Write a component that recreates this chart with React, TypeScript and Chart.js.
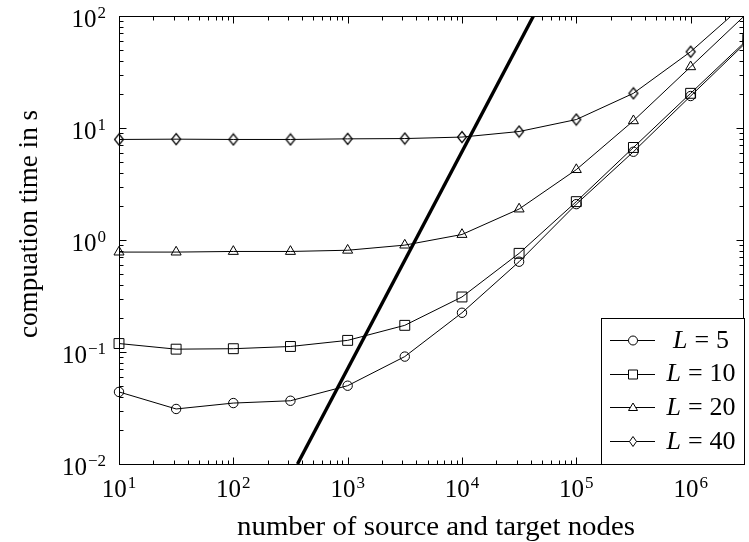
import React, { useEffect, useRef } from 'react';
import { Chart, registerables } from 'chart.js';

Chart.register(...registerables);

// ---- data ----
const xValues = [10, 31.6, 100, 316, 1000, 3160, 10000, 31600, 100000, 316000, 1000000, 3160000];
const lValues = [5, 10, 20, 40];
const timesL5 = [0.044, 0.031, 0.035, 0.0367, 0.05, 0.091, 0.224, 0.64, 2.09, 6.14, 19.3, 60];
const timesL10 = [0.119, 0.106, 0.107, 0.112, 0.127, 0.173, 0.31, 0.76, 2.2, 6.7, 20.4, 62];
const timesL20 = [0.78, 0.78, 0.79, 0.79, 0.81, 0.9, 1.12, 1.89, 4.25, 11.6, 35.2, 107];
const timesL40 = [7.9, 7.95, 7.9, 7.9, 8.0, 8.05, 8.3, 9.3, 11.9, 20.4, 48, 135];
const refLineX = [364, 42200];
const refLineY = [0.01, 100];
const xTickExponents = [1, 2, 3, 4, 5, 6];
const yTickExponents = [-2, -1, 0, 1, 2];
const xTitle = 'number of source and target nodes';
const yTitle = 'compuation time in s';
const X_MIN = 10;
const X_MAX = 2.93e6;
const Y_MIN = 0.01;
const Y_MAX = 100;

const series = [timesL5, timesL10, timesL20, timesL40];
const FONT = '"Liberation Serif", "Times New Roman", serif';

function makeDiamond(w: number, h: number): HTMLCanvasElement {
  const c = document.createElement('canvas');
  c.width = 12;
  c.height = 14;
  const g = c.getContext('2d')!;
  const cx = c.width / 2, cy = c.height / 2;
  g.strokeStyle = '#000';
  g.lineWidth = 1.2;
  g.beginPath();
  g.moveTo(cx, cy - h / 2);
  g.lineTo(cx + w / 2, cy);
  g.lineTo(cx, cy + h / 2);
  g.lineTo(cx - w / 2, cy);
  g.closePath();
  g.stroke();
  return c;
}

function drawPow(ctx: CanvasRenderingContext2D, exp: number, x: number, y: number, align: 'center' | 'right') {
  const base = '10';
  const e = exp < 0 ? '\u2212' + Math.abs(exp) : String(exp);
  ctx.font = `25px ${FONT}`;
  const w1 = ctx.measureText(base).width;
  ctx.font = `17px ${FONT}`;
  const w2 = ctx.measureText(e).width;
  const w = w1 + w2 + 1;
  const start = align === 'center' ? x - w / 2 : x - w;
  ctx.textAlign = 'left';
  ctx.textBaseline = 'alphabetic';
  ctx.font = `25px ${FONT}`;
  ctx.fillText(base, start, y);
  ctx.font = `17px ${FONT}`;
  ctx.fillText(e, start + w1 + 1, y - 9);
}

function legendMarker(ctx: CanvasRenderingContext2D, i: number, x: number, y: number) {
  ctx.beginPath();
  if (i === 0) {
    ctx.arc(x, y, 4.5, 0, Math.PI * 2);
  } else if (i === 1) {
    ctx.rect(x - 4.5, y - 4.5, 9, 9);
  } else if (i === 2) {
    ctx.moveTo(x, y - 4.5);
    ctx.lineTo(x + 4.5, y + 3);
    ctx.lineTo(x - 4.5, y + 3);
    ctx.closePath();
  } else {
    ctx.moveTo(x, y - 5);
    ctx.lineTo(x + 3.5, y);
    ctx.lineTo(x, y + 5);
    ctx.lineTo(x - 3.5, y);
    ctx.closePath();
  }
  ctx.fillStyle = '#fff';
  ctx.fill();
  ctx.stroke();
}

const decor = {
  id: 'decor',
  afterDatasetsDraw(chart: any) {
    const { ctx, chartArea: a, scales } = chart;
    const xs = scales.x, ys = scales.y;
    ctx.save();
    ctx.strokeStyle = '#000';
    ctx.lineWidth = 1;
    const L = Math.round(a.left) + 0.5;
    const R = Math.round(a.right) - 0.5;
    const T = Math.round(a.top) + 0.5;
    const B = Math.round(a.bottom) + 0.5;
    ctx.strokeRect(L, T, R - L, B - T);
    ctx.beginPath();
    for (let e = xTickExponents[0]; e <= xTickExponents[xTickExponents.length - 1]; e++) {
      for (let m = 1; m <= 9; m++) {
        const v = m * Math.pow(10, e);
        if (v < X_MIN || v > X_MAX) continue;
        const px = Math.round(xs.getPixelForValue(v)) + 0.5;
        const len = m === 1 ? 7 : 4;
        ctx.moveTo(px, B);
        ctx.lineTo(px, B - len);
        ctx.moveTo(px, T);
        ctx.lineTo(px, T + len);
      }
    }
    for (let e = yTickExponents[0]; e <= yTickExponents[yTickExponents.length - 1]; e++) {
      for (let m = 1; m <= 9; m++) {
        const v = m * Math.pow(10, e);
        if (v < Y_MIN || v > Y_MAX) continue;
        const py = Math.round(ys.getPixelForValue(v)) + 0.5;
        const len = m === 1 ? 7 : 4;
        ctx.moveTo(L, py);
        ctx.lineTo(L + len, py);
        ctx.moveTo(R, py);
        ctx.lineTo(R - len, py);
      }
    }
    ctx.stroke();
    ctx.restore();
  },
  afterDraw(chart: any) {
    const { ctx, chartArea: a, scales } = chart;
    const xs = scales.x, ys = scales.y;
    ctx.save();
    ctx.fillStyle = '#000';
    xTickExponents.forEach((e) => {
      const px = xs.getPixelForValue(Math.pow(10, e));
      drawPow(ctx, e, px, a.bottom + 33, 'center');
    });
    yTickExponents.forEach((e) => {
      const py = ys.getPixelForValue(Math.pow(10, e));
      drawPow(ctx, e, a.left - 13, py + 10.5, 'right');
    });
    ctx.font = `27px ${FONT}`;
    ctx.textAlign = 'center';
    ctx.textBaseline = 'alphabetic';
    {
      const w = ctx.measureText(xTitle).width;
      ctx.save();
      ctx.translate(436, a.bottom + 71);
      ctx.scale(398 / w, 1);
      ctx.fillText(xTitle, 0, 0);
      ctx.restore();
    }
    {
      ctx.font = `28px ${FONT}`;
      const w = ctx.measureText(yTitle).width;
      ctx.save();
      ctx.translate(37, 224);
      ctx.rotate(-Math.PI / 2);
      ctx.scale(228 / w, 1);
      ctx.fillText(yTitle, 0, 0);
      ctx.restore();
    }
    const lgLeft = 601, lgTop = 318;
    ctx.fillStyle = '#fff';
    ctx.fillRect(lgLeft, lgTop, a.right - lgLeft, a.bottom - lgTop);
    ctx.strokeStyle = '#000';
    ctx.lineWidth = 1;
    ctx.strokeRect(lgLeft + 0.5, lgTop + 0.5, a.right - lgLeft, a.bottom - lgTop);
    lValues.forEach((lv, i) => {
      const cy = 340 + i * 33.7;
      ctx.beginPath();
      ctx.moveTo(610, Math.round(cy) + 0.5);
      ctx.lineTo(655, Math.round(cy) + 0.5);
      ctx.stroke();
      legendMarker(ctx, i, 633, Math.round(cy) + 0.5);
      ctx.fillStyle = '#000';
      ctx.textAlign = 'left';
      ctx.textBaseline = 'alphabetic';
      ctx.font = `italic 26px ${FONT}`;
      const wL = ctx.measureText('L').width;
      ctx.font = `26px ${FONT}`;
      const wEq = ctx.measureText('=').width;
      const val = String(lv);
      const wV = ctx.measureText(val).width;
      const gap = 7;
      const total = wL + gap + wEq + gap + wV;
      let x = 701 - total / 2;
      const by = cy + 7.5;
      ctx.font = `italic 26px ${FONT}`;
      ctx.fillText('L', x, by);
      x += wL + gap;
      ctx.font = `26px ${FONT}`;
      ctx.fillText('=', x, by);
      x += wEq + gap;
      ctx.fillText(val, x, by);
    });
    ctx.restore();
  },
};

export default function App() {
  const ref = useRef<HTMLCanvasElement>(null);
  useEffect(() => {
    const canvas = ref.current!;
    const diamond = makeDiamond(9, 11);
    const styles: any[] = ['circle', 'rect', 'triangle', diamond];
    const radii = [4.7, 7, 5.8, 5];
    const chart = new Chart(canvas, {
      type: 'line',
      data: {
        datasets: [
          ...series.map((s, i) => ({
            label: `L = ${lValues[i]}`,
            data: xValues.map((x, j) => ({ x, y: s[j] })),
            borderColor: '#000',
            borderWidth: 1,
            pointStyle: styles[i],
            pointRadius: radii[i],
            pointBorderColor: '#000',
            pointBackgroundColor: 'rgba(0,0,0,0)',
            pointBorderWidth: 1,
            tension: 0,
            clip: { left: 12, top: 0, right: 0, bottom: 0 },
          })),
          {
            label: 'reference',
            data: refLineX.map((x, j) => ({ x, y: refLineY[j] })),
            borderColor: '#000',
            borderWidth: 3.4,
            pointRadius: 0,
            tension: 0,
            clip: 0,
          },
        ],
      } as any,
      options: {
        responsive: false,
        animation: false,
        events: [],
        layout: { padding: { left: 119, top: 16, right: 1, bottom: 78 } },
        scales: {
          x: { type: 'logarithmic', min: X_MIN, max: X_MAX, display: false },
          y: { type: 'logarithmic', min: Y_MIN, max: Y_MAX, display: false },
        },
        plugins: { legend: { display: false }, tooltip: { enabled: false } },
      } as any,
      plugins: [decor],
    });
    return () => chart.destroy();
  }, []);
  return (
    <div
      style={{
        position: 'absolute',
        left: 0,
        top: 0,
        width: 749,
        height: 542,
        overflow: 'hidden',
        background: '#fff',
      }}
    >
      <canvas ref={ref} width={752} height={542} style={{ display: 'block' }} />
    </div>
  );
}
